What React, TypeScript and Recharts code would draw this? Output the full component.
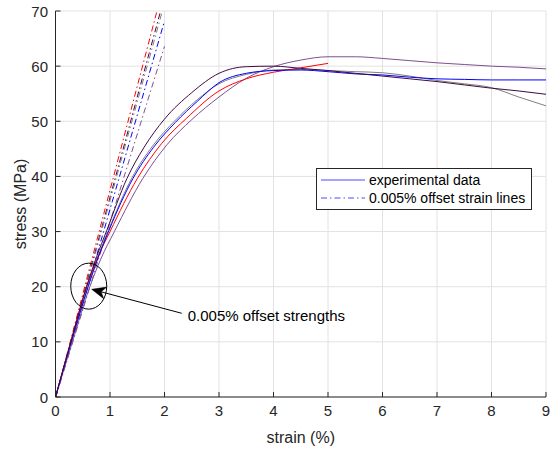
import {
  CartesianGrid,
  Legend,
  Line,
  LineChart,
  ReferenceDot,
  ReferenceLine,
  XAxis,
  YAxis,
} from 'recharts';

type Pt = [number, number];

const strainTicks = [0, 1, 2, 3, 4, 5, 6, 7, 8, 9];
const stressTicks = [0, 10, 20, 30, 40, 50, 60, 70];

// experimental curves, [strain %, stress MPa]
const darkCurve: Pt[] = [
  [0, 0], [0.28, 10], [0.57, 20], [0.75, 25.3], [0.94, 30.2], [1.31, 39.6], [1.62, 45.2], [2, 50.4],
  [2.5, 55.2], [3, 58.7], [3.5, 59.9], [4, 60], [4.5, 59.6], [5, 59.2], [5.5, 58.7], [6, 58.2],
  [6.5, 57.7], [7, 57.2], [7.5, 56.6], [8, 56], [8.5, 55.5], [9, 54.9],
];
const blueCurve: Pt[] = [
  [0, 0], [0.29, 10], [0.6, 20], [0.78, 25.2], [0.98, 30.2], [1.42, 39.6], [1.8, 45.3], [2.2, 49.8],
  [2.6, 53.6], [3, 57], [3.5, 58.7], [4, 59.2], [4.5, 59.3], [5, 59], [5.5, 58.6], [6, 58.4],
  [6.5, 58], [7, 57.7], [7.5, 57.6], [8, 57.5], [8.5, 57.5], [9, 57.5],
];
const grayCurve: Pt[] = [
  [0, 0], [0.29, 10], [0.59, 20], [0.77, 25.2], [0.97, 30.2], [1.4, 39.7], [1.78, 45.5], [2.18, 50],
  [2.6, 53.9], [3, 56.8], [3.5, 58.5], [4, 59.3], [4.5, 59.4], [5, 59.2], [5.5, 59], [6, 58.8],
  [6.5, 58.2], [7, 57.4], [7.5, 56.8], [8, 56.1], [8.5, 54.4], [9, 52.8],
];
const redCurve: Pt[] = [
  [0, 0], [0.28, 10], [0.57, 20], [0.77, 25.2], [1.0, 30], [1.5, 39.6], [1.95, 46], [2.41, 50.6],
  [3, 55.5], [3.5, 57.7], [4, 58.9], [4.5, 59.7], [5, 60.5],
];
const purpleCurve: Pt[] = [
  [0, 0], [0.31, 10], [0.63, 20], [0.83, 25], [1.08, 30], [1.6, 39.6], [2.05, 45.8], [2.5, 50.3],
  [3, 54.4], [3.5, 57.8], [4, 59.9], [4.5, 61.1], [5, 61.7], [5.5, 61.7], [6, 61.4], [6.5, 61],
  [7, 60.6], [7.5, 60.3], [8, 60], [8.5, 59.8], [9, 59.5],
];

// 0.005% offset strain lines
const redOffset: Pt[] = [[0.005, 0], [2, 75.2]];
const darkOffset: Pt[] = [[0.005, 0], [2, 72.6]];
const grayOffset: Pt[] = [[0.005, 0], [2, 71.4]];
const blueOffset: Pt[] = [[0.005, 0], [2, 68.2]];
const purpleOffset: Pt[] = [[0.005, 0], [2, 63.6]];

const ellipseAt = { strain: 0.61, stress: 20.1 };
const arrowFrom = { strain: 2.316, stress: 15.18 };
const arrowTo = { strain: 0.664, stress: 19.53 };
const annotationText = '0.005% offset strengths';

const legendItems = [
  { label: 'experimental data', dash: undefined },
  { label: '0.005% offset strain lines', dash: '6 3 1.5 3' },
];

const toRows = (pts: Pt[]) => pts.map(([strain, stress]) => ({ strain, stress }));

const DASH = '6 3 1.5 3';
const FONT = '"Liberation Sans", Arial, sans-serif';
const INK = '#262626';

const solids = [
  { key: 'purple', data: purpleCurve, color: '#7e4f90' },
  { key: 'gray', data: grayCurve, color: '#7f7f7f' },
  { key: 'red', data: redCurve, color: '#ff0000' },
  { key: 'blue', data: blueCurve, color: '#0000ff' },
  { key: 'dark', data: darkCurve, color: '#3f0a40' },
];
const offsets = [
  { key: 'red-o', data: redOffset, color: '#ff0000' },
  { key: 'dark-o', data: darkOffset, color: '#3f0a40' },
  { key: 'gray-o', data: grayOffset, color: '#7f7f7f' },
  { key: 'blue-o', data: blueOffset, color: '#0000ff' },
  { key: 'purple-o', data: purpleOffset, color: '#7e4f90' },
];

function LegendBox() {
  return (
    <div
      style={{
        border: `1px solid ${INK}`,
        background: '#fff',
        padding: '2px 6px 2px 4px',
        fontFamily: FONT,
        fontSize: 14,
        color: '#000',
        lineHeight: '18px',
        whiteSpace: 'nowrap',
      }}
    >
      {legendItems.map((item) => (
        <div key={item.label} style={{ display: 'flex', alignItems: 'center' }}>
          <svg width={44} height={18} style={{ marginRight: 4 }}>
            <line x1={0} x2={44} y1={9} y2={9} stroke="#4a4aff" strokeWidth={1} strokeDasharray={item.dash} />
          </svg>
          <span>{item.label}</span>
        </div>
      ))}
    </div>
  );
}

function XTick(props: any) {
  const { x, y, payload } = props;
  return (
    <text x={x} y={y + 6} textAnchor="middle" dominantBaseline="central" fontSize={15} fill={INK}>
      {payload.value}
    </text>
  );
}

function YTick(props: any) {
  const { x, y, payload } = props;
  return (
    <text x={x} y={y} textAnchor="end" dominantBaseline="central" fontSize={15} fill={INK}>
      {payload.value}
    </text>
  );
}

function ArrowShape(props: any) {
  const { x1, y1, x2, y2 } = props;
  const dx = x2 - x1;
  const dy = y2 - y1;
  const len = Math.sqrt(dx * dx + dy * dy);
  const ux = dx / len;
  const uy = dy / len;
  const hl = 14;
  const hw = 6;
  const bx = x2 - ux * hl;
  const by = y2 - uy * hl;
  const nx = x2 - ux * hl * 0.7;
  const ny = y2 - uy * hl * 0.7;
  const head = `${x2},${y2} ${bx - uy * hw},${by + ux * hw} ${nx},${ny} ${bx + uy * hw},${by - ux * hw}`;
  return (
    <g>
      <line x1={x1} y1={y1} x2={nx} y2={ny} stroke="#000" strokeWidth={1} />
      <polygon points={head} fill="#000" stroke="#000" strokeWidth={0.5} />
      <text x={x1 + 6} y={y1 + 2} dominantBaseline="central" fontSize={15} fontFamily={FONT} fill="#000">
        {annotationText}
      </text>
    </g>
  );
}

export default function App() {
  return (
    <div style={{ width: 555, height: 452 }}>
      <style>{'body{margin:0}.recharts-surface{overflow:visible}'}</style>
      <LineChart
        width={555}
        height={452}
        margin={{ top: 11, right: 9, left: 8, bottom: 0 }}
        style={{ fontFamily: FONT }}
      >
        <CartesianGrid stroke="#e2e2e2" strokeWidth={1} />
        <XAxis
          type="number"
          dataKey="strain"
          domain={[0, 9]}
          ticks={strainTicks}
          interval={0}
          allowDataOverflow
          height={55}
          stroke={INK}
          tickSize={-5}
          tickMargin={12}
          tick={<XTick />}
          label={{
            content: (p: any) => (
              <text
                x={p.viewBox.x + p.viewBox.width / 2}
                y={p.viewBox.y + 40}
                textAnchor="middle"
                dominantBaseline="central"
                fontSize={16}
                fill={INK}
              >
                strain (%)
              </text>
            ),
          }}
        />
        <YAxis
          type="number"
          dataKey="stress"
          domain={[0, 70]}
          ticks={stressTicks}
          interval={0}
          allowDataOverflow
          width={47.5}
          stroke={INK}
          tickSize={-5}
          tickMargin={12.5}
          tick={<YTick />}
          label={{
            content: (p: any) => {
              const x = p.viewBox.x + 12;
              const y = p.viewBox.y + p.viewBox.height / 2;
              return (
                <text
                  x={x}
                  y={y}
                  transform={`rotate(-90 ${x} ${y})`}
                  textAnchor="middle"
                  dominantBaseline="central"
                  fontSize={16}
                  fill={INK}
                >
                  stress (MPa)
                </text>
              );
            },
          }}
        />
        {offsets.map((s) => (
          <Line
            key={s.key}
            data={toRows(s.data)}
            dataKey="stress"
            type="linear"
            stroke={s.color}
            strokeWidth={1}
            strokeDasharray={DASH}
            dot={false}
            activeDot={false}
            isAnimationActive={false}
            legendType="none"
          />
        ))}
        {solids.map((s) => (
          <Line
            key={s.key}
            data={toRows(s.data)}
            dataKey="stress"
            type="monotone"
            stroke={s.color}
            strokeWidth={1}
            dot={false}
            activeDot={false}
            isAnimationActive={false}
            legendType="none"
          />
        ))}
        <ReferenceDot
          x={ellipseAt.strain}
          y={ellipseAt.stress}
          r={0}
          ifOverflow="visible"
          shape={(p: any) => <ellipse cx={p.cx} cy={p.cy} rx={18} ry={23} fill="none" stroke="#000" strokeWidth={1} />}
        />
        <ReferenceLine
          segment={[
            { x: arrowFrom.strain, y: arrowFrom.stress },
            { x: arrowTo.strain, y: arrowTo.stress },
          ]}
          ifOverflow="visible"
          shape={(p: any) => <ArrowShape {...p} />}
        />
        <Legend
          layout="vertical"
          align="center"
          verticalAlign="middle"
          content={() => <LegendBox />}
          wrapperStyle={{ left: 316, top: 168, width: 'auto', height: 'auto' }}
        />
      </LineChart>
    </div>
  );
}
